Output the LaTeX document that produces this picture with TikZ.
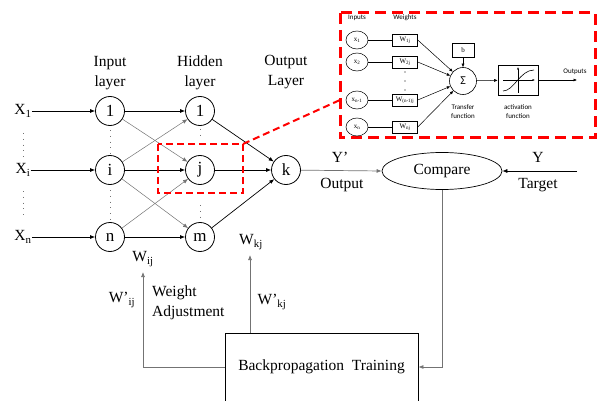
\documentclass[tikz,border=0pt]{standalone}
\usepackage{fontspec}
\setmainfont{Liberation Serif}
\newfontfamily\insetsans{Carlito}
\usetikzlibrary{arrows.meta,shapes.geometric}

\begin{document}
\begin{tikzpicture}[x=1pt,y=-1pt,
  neuron/.style={circle,draw,line width=0.8pt,minimum size=29pt,inner sep=0pt,font=\fontsize{17}{17}\selectfont},
  lbl/.style={font=\fontsize{15.5}{20}\selectfont,align=center,inner sep=0pt},
  arr/.style={-{Latex[length=5pt,width=4pt]},line width=0.7pt},
  garr/.style={arr,draw=black!55},
  vdots/.style={line width=0.8pt,draw=black!55,dash pattern=on 0.8pt off 5pt},
  reddash/.style={draw=red,line width=2pt,dash pattern=on 7pt off 4pt},
  insetdash/.style={draw=red,line width=3pt,dash pattern=on 11pt off 6pt},
  sml/.style={font=\insetsans\fontsize{7}{9}\selectfont,align=center,inner sep=0pt},
  smlserif/.style={font=\fontsize{7}{8}\selectfont,inner sep=0pt},
  inode/.style={ellipse,draw,line width=0.5pt,minimum width=22pt,minimum height=18pt,inner sep=0pt,smlserif},
  wbox/.style={rectangle,draw,line width=0.5pt,minimum width=25pt,minimum height=12pt,inner sep=0pt,smlserif},
  iarr/.style={-{Latex[length=3.5pt,width=3pt]},line width=0.5pt}]
\useasboundingbox (0,0) rectangle (605,401);

% layer captions
\node[lbl] at (110,73) {Input\\layer};
\node[lbl] at (200,73) {Hidden\\layer};
\node[lbl] at (286,72) {Output\\Layer};

% inputs
\node[lbl] (x1) at (23,111) {X\textsubscript{1}};
\node[lbl] (xi) at (23,170) {X\textsubscript{i}};
\node[lbl] (xn) at (23,237) {X\textsubscript{n}};
\draw[vdots] (23,133) -- (23,157);
\draw[vdots] (23,191) -- (23,216);

% neurons
\node[neuron] (i1) at (110,111) {1};
\node[neuron] (ii) at (110,170) {i};
\node[neuron] (in) at (110,237) {n};
\node[neuron] (h1) at (200,111) {1};
\node[neuron] (hj) at (200,170) {j};
\node[neuron] (hm) at (200,237) {m};
\node[neuron] (k)  at (286,170) {k};

\draw[vdots] (110,130) -- (110,155);
\draw[vdots] (110,190) -- (110,222);
\draw[vdots] (200,129) -- (200,139);
\draw[vdots] (200,205) -- (200,222);

\draw[arr] (x1) -- (i1);
\draw[arr] (xi) -- (ii);
\draw[arr] (xn) -- (in);

% input to hidden
\draw[arr] (i1) -- (h1);
\draw[arr] (ii) -- (hj);
\draw[arr] (in) -- (hm);
\draw[garr,line width=0.5pt] (i1) -- (hj);
\draw[garr,line width=0.5pt] (ii) -- (h1);
\draw[garr,line width=0.5pt] (ii) -- (hm);
\draw[garr,line width=0.5pt] (in) -- (hj);

% hidden to output
\draw[arr] (h1) -- (k);
\draw[arr] (hj) -- (k);
\draw[arr] (hm) -- (k);

% compare
\node[ellipse,draw,line width=0.7pt,minimum width=120pt,minimum height=37pt,inner sep=0pt,lbl] (cmp) at (442,171) {Compare};
\draw[garr] (k) -- (cmp.west);
\node[lbl] at (340,157) {Y’};
\node[lbl] at (342,185) {Output};
\coordinate (tgt) at (577,171);
\draw[arr] (tgt) -- (cmp.east);
\node[lbl] at (538,157) {Y};
\node[lbl] at (538,185) {Target};

% training
\node[rectangle,draw,line width=0.8pt,minimum width=193pt,minimum height=68pt,lbl] (bp) at (321.5,367) {Backpropagation\ \ Training};
\draw[garr] (cmp.south) |- (bp.east);
\coordinate (wij) at (143,272);
\coordinate (wkj) at (250,255);
\draw[garr] (bp.west) -| (wij);
\draw[garr] (bp.north -| wkj) -- (wkj);
\node[lbl] at (143,259) {W\textsubscript{ij}};
\node[lbl] at (251,242) {W\textsubscript{kj}};
\node[lbl] at (122,300) {W’\textsubscript{ij}};
\node[lbl] at (272,302) {W’\textsubscript{kj}};
\node[lbl,align=left,anchor=west] at (152,303) {Weight\\Adjustment};

% zoom marker
\draw[reddash] (158,144) rectangle (243,193);
\coordinate (zc) at (243,144);
\coordinate (zi) at (340,100);
\draw[reddash] (zc) -- (zi);

% single neuron detail
\draw[insetdash] (340,13) rectangle (595,138);
\node[sml] at (357,18) {Inputs};
\node[sml] at (405,18) {Weights};
\node[inode] (a1) at (357,40)  {x\textsubscript{1}};
\node[inode] (a2) at (357,62)  {x\textsubscript{2}};
\node[inode] (a3) at (357,100) {x\textsubscript{n-1}};
\node[inode] (a4) at (357,127) {x\textsubscript{n}};
\node[wbox] (w1) at (405,40)  {W\textsubscript{1j}};
\node[wbox] (w2) at (405,62)  {W\textsubscript{2j}};
\node[wbox] (w3) at (405,100) {W\textsubscript{(n-1)j}};
\node[wbox] (w4) at (405,127) {W\textsubscript{nj}};
\foreach \y in {72,81,90} \fill (405,\y) circle (0.6pt);
\foreach \n in {1,2,3,4} \draw[line width=0.5pt] (a\n) -- (w\n);
\node[circle,draw,line width=0.6pt,minimum size=27pt,inner sep=0pt,font=\insetsans\fontsize{12}{12}\selectfont] (sig) at (463,81) {Σ};
\node[wbox,minimum width=22pt,minimum height=14pt] (b) at (463,50) {b};
\foreach \n in {1,2,3,4} \draw[iarr] (w\n.east) -- (sig);
\draw[iarr] (b) -- (sig);
\node[sml] at (463,112) {Transfer\\function};
\node[rectangle,draw,line width=0.6pt,minimum width=40pt,minimum height=30pt] (act) at (518,80) {};
\draw[iarr] (sig) -- (act);
\draw[-{Latex[length=2.5pt,width=2pt]},line width=0.4pt] (503,80) -- (535,80);
\draw[-{Latex[length=2.5pt,width=2pt]},line width=0.4pt] (518,93) -- (518,67);
\draw[line width=0.6pt] (503,91) .. controls (514,91) and (520,70) .. (534,70);
\node[sml] at (518,112) {activation\\function};
\coordinate (out) at (577,80);
\draw[iarr] (act) -- (out);
\node[sml] at (575,72) {Outputs};
\end{tikzpicture}
\end{document}
